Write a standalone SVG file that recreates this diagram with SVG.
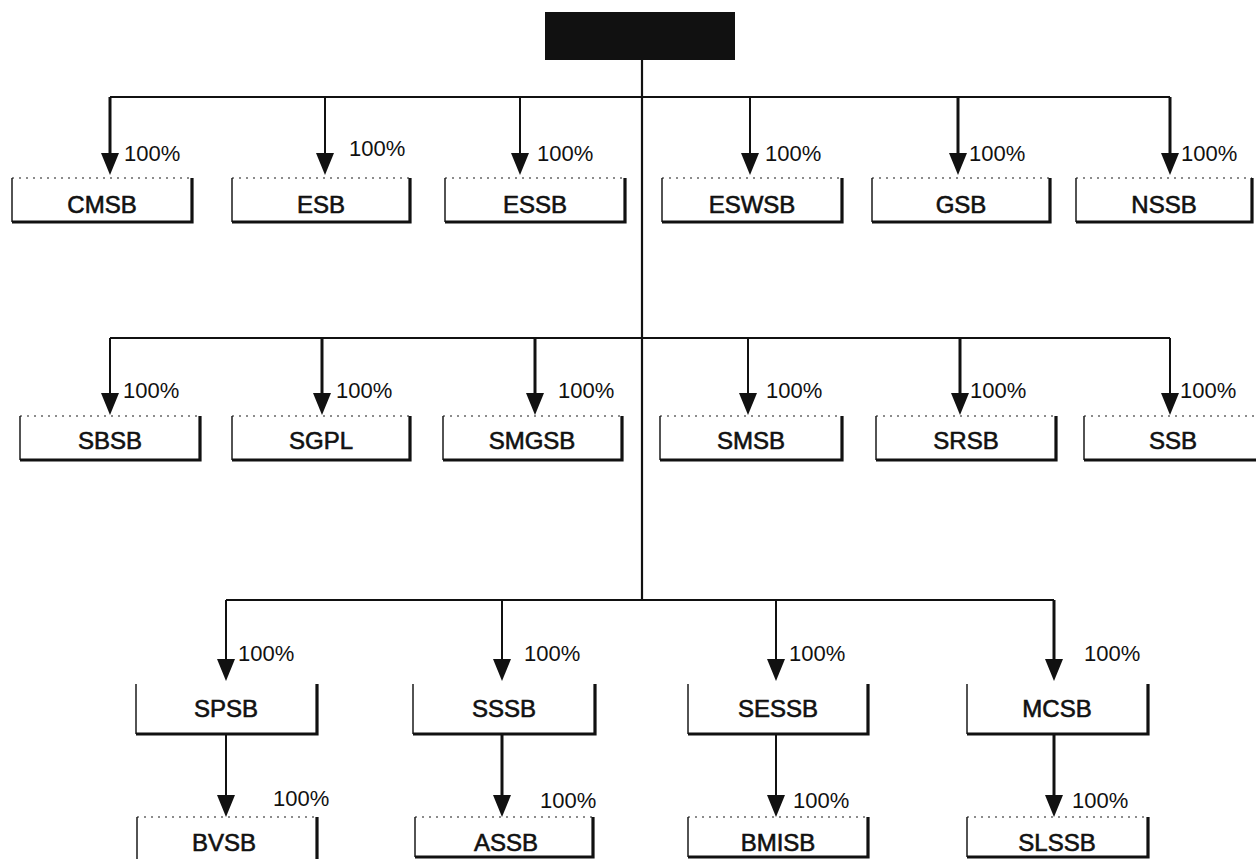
<svg xmlns="http://www.w3.org/2000/svg" width="1256" height="859" viewBox="0 0 1256 859">
<style>
.bg{fill:#fff}
.edge{fill:none;stroke:#1a1a1a;stroke-width:1.5}
.top{fill:none;stroke:#1a1a1a;stroke-width:1.2;stroke-dasharray:2 5}
.sh{fill:none;stroke:#111;stroke-width:3.2}
.nt{font-family:"Liberation Sans",Arial,sans-serif;font-size:24px;fill:#111;stroke:#111;stroke-width:0.6;text-anchor:middle}
.pct{font-family:"Liberation Sans",Arial,sans-serif;font-size:22px;fill:#111}
.bus{fill:none;stroke:#111;stroke-width:2.2}
.stem{fill:none;stroke:#111;stroke-width:2}
.stemb{fill:none;stroke:#111;stroke-width:3}
.ah{fill:#111}
</style>
<defs>
<path id="ah" class="ah" d="M-9,-22 L9,-22 L0,0 Z"/>
</defs>
<rect class="bg" x="0" y="0" width="1256" height="859"/>

<g id="root">
<rect x="545" y="12" width="190" height="48" fill="#111"/>
</g>

<g id="connectors">
<path class="bus" d="M642,60 V600"/>
<path class="bus" d="M110,97 H1170"/>
<path class="stemb" d="M110,97 V160"/>
<path class="stem" d="M325,97 V160"/>
<path class="stem" d="M520,97 V160"/>
<path class="stem" d="M750,97 V160"/>
<path class="stemb" d="M958,97 V160"/>
<path class="stemb" d="M1170,97 V160"/>
<use href="#ah" x="110" y="175"/>
<use href="#ah" x="325" y="175"/>
<use href="#ah" x="520" y="175"/>
<use href="#ah" x="750" y="175"/>
<use href="#ah" x="958" y="175"/>
<use href="#ah" x="1170" y="175"/>
<path class="bus" d="M110,338 H1170"/>
<path class="stem" d="M110,338 V400"/>
<path class="stemb" d="M322,338 V400"/>
<path class="stemb" d="M535,338 V400"/>
<path class="stem" d="M748,338 V400"/>
<path class="stemb" d="M960,338 V400"/>
<path class="stem" d="M1170,338 V400"/>
<use href="#ah" x="110" y="415"/>
<use href="#ah" x="322" y="415"/>
<use href="#ah" x="535" y="415"/>
<use href="#ah" x="748" y="415"/>
<use href="#ah" x="960" y="415"/>
<use href="#ah" x="1170" y="415"/>
<path class="bus" d="M226,600 H1054"/>
<path class="stem" d="M226,600 V665"/>
<path class="stem" d="M502,600 V665"/>
<path class="stem" d="M776,600 V665"/>
<path class="stemb" d="M1054,600 V665"/>
<use href="#ah" x="226" y="681"/>
<use href="#ah" x="502" y="681"/>
<use href="#ah" x="776" y="681"/>
<use href="#ah" x="1054" y="681"/>
<path class="stem" d="M226,734 V800"/>
<path class="stemb" d="M502,734 V800"/>
<path class="stem" d="M776,734 V800"/>
<path class="stemb" d="M1054,734 V800"/>
<use href="#ah" x="226" y="817"/>
<use href="#ah" x="502" y="817"/>
<use href="#ah" x="776" y="817"/>
<use href="#ah" x="1054" y="817"/>
</g>

<g id="labels">
<text class="pct" x="124" y="161">100%</text>
<text class="pct" x="349" y="156">100%</text>
<text class="pct" x="537" y="161">100%</text>
<text class="pct" x="765" y="161">100%</text>
<text class="pct" x="969" y="161">100%</text>
<text class="pct" x="1181" y="161">100%</text>
<text class="pct" x="123" y="398">100%</text>
<text class="pct" x="336" y="398">100%</text>
<text class="pct" x="558" y="398">100%</text>
<text class="pct" x="766" y="398">100%</text>
<text class="pct" x="970" y="398">100%</text>
<text class="pct" x="1180" y="398">100%</text>
<text class="pct" x="238" y="661">100%</text>
<text class="pct" x="524" y="661">100%</text>
<text class="pct" x="789" y="661">100%</text>
<text class="pct" x="1084" y="661">100%</text>
<text class="pct" x="273" y="806">100%</text>
<text class="pct" x="540" y="808">100%</text>
<text class="pct" x="793" y="808">100%</text>
<text class="pct" x="1072" y="808">100%</text>
</g>

<g id="CMSB"><path class="top" d="M12,178 H192"/><path class="edge" d="M12,178 V222"/><path class="sh" d="M192,178 V222 H12"/><text class="nt" x="102" y="213">CMSB</text></g>
<g id="ESB"><path class="top" d="M232,178 H410"/><path class="edge" d="M232,178 V222"/><path class="sh" d="M410,178 V222 H232"/><text class="nt" x="321" y="213">ESB</text></g>
<g id="ESSB"><path class="top" d="M445,178 H625"/><path class="edge" d="M445,178 V222"/><path class="sh" d="M625,178 V222 H445"/><text class="nt" x="535" y="213">ESSB</text></g>
<g id="ESWSB"><path class="top" d="M662,178 H842"/><path class="edge" d="M662,178 V222"/><path class="sh" d="M842,178 V222 H662"/><text class="nt" x="752" y="213">ESWSB</text></g>
<g id="GSB"><path class="top" d="M872,178 H1050"/><path class="edge" d="M872,178 V222"/><path class="sh" d="M1050,178 V222 H872"/><text class="nt" x="961" y="213">GSB</text></g>
<g id="NSSB"><path class="top" d="M1076,178 H1252"/><path class="edge" d="M1076,178 V222"/><path class="sh" d="M1252,178 V222 H1076"/><text class="nt" x="1164" y="213">NSSB</text></g>

<g id="SBSB"><path class="top" d="M20,416 H200"/><path class="edge" d="M20,416 V460"/><path class="sh" d="M200,416 V460 H20"/><text class="nt" x="110" y="449">SBSB</text></g>
<g id="SGPL"><path class="top" d="M232,416 H410"/><path class="edge" d="M232,416 V460"/><path class="sh" d="M410,416 V460 H232"/><text class="nt" x="321" y="449">SGPL</text></g>
<g id="SMGSB"><path class="top" d="M443,416 H622"/><path class="edge" d="M443,416 V460"/><path class="sh" d="M622,416 V460 H443"/><text class="nt" x="532" y="449">SMGSB</text></g>
<g id="SMSB"><path class="top" d="M660,416 H842"/><path class="edge" d="M660,416 V460"/><path class="sh" d="M842,416 V460 H660"/><text class="nt" x="751" y="449">SMSB</text></g>
<g id="SRSB"><path class="top" d="M876,416 H1056"/><path class="edge" d="M876,416 V460"/><path class="sh" d="M1056,416 V460 H876"/><text class="nt" x="966" y="449">SRSB</text></g>
<g id="SSB"><path class="top" d="M1084,416 H1262"/><path class="edge" d="M1084,416 V460"/><path class="sh" d="M1262,460 H1084"/><text class="nt" x="1173" y="449">SSB</text></g>

<g id="SPSB"><path class="edge" d="M136,684 V734"/><path class="sh" d="M317,684 V734 H136"/><text class="nt" x="226" y="717">SPSB</text></g>
<g id="SSSB"><path class="edge" d="M413,684 V734"/><path class="sh" d="M595,684 V734 H413"/><text class="nt" x="504" y="717">SSSB</text></g>
<g id="SESSB"><path class="edge" d="M688,684 V734"/><path class="sh" d="M868,684 V734 H688"/><text class="nt" x="778" y="717">SESSB</text></g>
<g id="MCSB"><path class="edge" d="M967,684 V734"/><path class="sh" d="M1148,684 V734 H967"/><text class="nt" x="1057" y="717">MCSB</text></g>

<g id="BVSB"><path class="top" d="M137,817 H317"/><path class="edge" d="M137,817 V862"/><path class="sh" d="M317,817 V862"/><text class="nt" x="224" y="851">BVSB</text></g>
<g id="ASSB"><path class="top" d="M415,817 H593"/><path class="edge" d="M415,817 V857"/><path class="sh" d="M593,817 V857 H415"/><text class="nt" x="506" y="851">ASSB</text></g>
<g id="BMISB"><path class="top" d="M688,817 H868"/><path class="edge" d="M688,817 V857"/><path class="sh" d="M868,817 V857 H688"/><text class="nt" x="778" y="851">BMISB</text></g>
<g id="SLSSB"><path class="top" d="M967,817 H1148"/><path class="edge" d="M967,817 V857"/><path class="sh" d="M1148,817 V857 H967"/><text class="nt" x="1057" y="851">SLSSB</text></g>
</svg>
